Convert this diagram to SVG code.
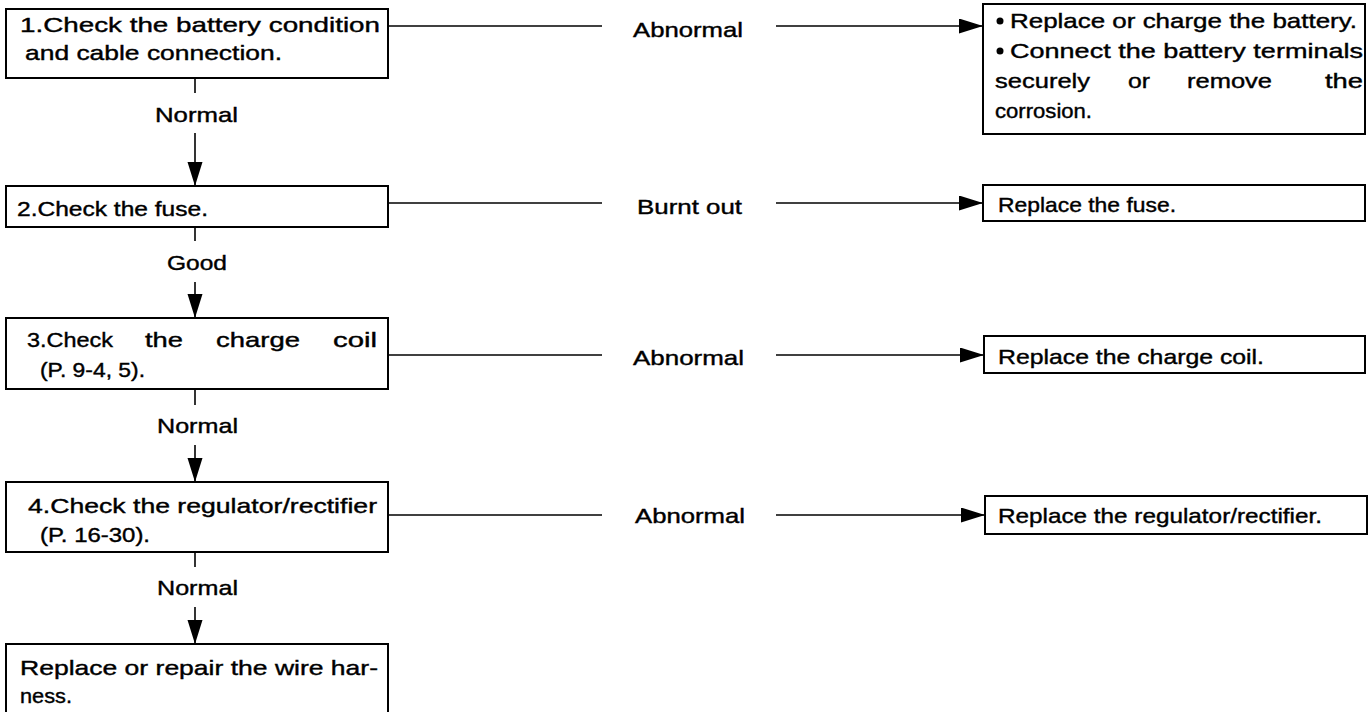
<svg xmlns="http://www.w3.org/2000/svg" width="1372" height="712" viewBox="0 0 1372 712">
<style>
.box{fill:#fff;stroke:#000;stroke-width:2}
.ln{fill:none;stroke:#000;stroke-width:1.6}
text{font-family:"Liberation Sans",Arial,sans-serif;font-size:21px;fill:#000;stroke:#000;stroke-width:0.4}
</style>
<defs>
<marker id="ah" markerWidth="26" markerHeight="16" refX="24" refY="7.5" orient="auto" markerUnits="userSpaceOnUse">
<path d="M0,0 L24,7.5 L0,15 z" fill="#000"/>
</marker>
</defs>
<rect width="1372" height="712" fill="#fff"/>
<g id="connectors">
<line class="ln" x1="195" y1="78" x2="195" y2="93"/>
<line class="ln" x1="195" y1="133" x2="195" y2="186" marker-end="url(#ah)"/>
<line class="ln" x1="195" y1="227" x2="195" y2="241"/>
<line class="ln" x1="195" y1="282" x2="195" y2="318" marker-end="url(#ah)"/>
<line class="ln" x1="195" y1="389" x2="195" y2="405"/>
<line class="ln" x1="195" y1="445" x2="195" y2="482" marker-end="url(#ah)"/>
<line class="ln" x1="195" y1="552" x2="195" y2="567"/>
<line class="ln" x1="195" y1="607" x2="195" y2="644" marker-end="url(#ah)"/>
<line class="ln" x1="388" y1="26" x2="602" y2="26"/>
<line class="ln" x1="776" y1="26" x2="983" y2="26" marker-end="url(#ah)"/>
<line class="ln" x1="388" y1="203" x2="602" y2="203"/>
<line class="ln" x1="776" y1="203" x2="983" y2="203" marker-end="url(#ah)"/>
<line class="ln" x1="388" y1="355" x2="602" y2="355"/>
<line class="ln" x1="776" y1="355" x2="984" y2="355" marker-end="url(#ah)"/>
<line class="ln" x1="388" y1="515" x2="602" y2="515"/>
<line class="ln" x1="776" y1="515" x2="985" y2="515" marker-end="url(#ah)"/>
<text x="633" y="37" textLength="110" lengthAdjust="spacingAndGlyphs">Abnormal</text>
<text x="637" y="214" textLength="105" lengthAdjust="spacingAndGlyphs">Burnt out</text>
<text x="633" y="365" textLength="111" lengthAdjust="spacingAndGlyphs">Abnormal</text>
<text x="635" y="523" textLength="110" lengthAdjust="spacingAndGlyphs">Abnormal</text>
<text x="155" y="122" textLength="83" lengthAdjust="spacingAndGlyphs">Normal</text>
<text x="167" y="270" textLength="60" lengthAdjust="spacingAndGlyphs">Good</text>
<text x="157" y="433" textLength="81" lengthAdjust="spacingAndGlyphs">Normal</text>
<text x="157" y="595" textLength="81" lengthAdjust="spacingAndGlyphs">Normal</text>
</g>
<g id="step1">
<rect class="box" x="6" y="9" width="382" height="69"/>
<text x="20" y="32" textLength="360" lengthAdjust="spacingAndGlyphs">1.Check the battery condition</text>
<text x="25" y="60" textLength="257" lengthAdjust="spacingAndGlyphs">and cable connection.</text>
</g>
<g id="step2">
<rect class="box" x="6" y="186" width="382" height="41"/>
<text x="17" y="216" textLength="191" lengthAdjust="spacingAndGlyphs">2.Check the fuse.</text>
</g>
<g id="step3">
<rect class="box" x="6" y="318" width="382" height="71"/>
<text y="347"><tspan x="27" textLength="86" lengthAdjust="spacingAndGlyphs">3.Check</tspan><tspan x="145" textLength="38" lengthAdjust="spacingAndGlyphs">the</tspan><tspan x="216" textLength="84" lengthAdjust="spacingAndGlyphs">charge</tspan><tspan x="333" textLength="44" lengthAdjust="spacingAndGlyphs">coil</tspan></text>
<text x="40" y="377" textLength="105" lengthAdjust="spacingAndGlyphs">(P. 9-4, 5).</text>
</g>
<g id="step4">
<rect class="box" x="6" y="482" width="382" height="70"/>
<text x="28" y="513" textLength="349" lengthAdjust="spacingAndGlyphs">4.Check the regulator/rectifier</text>
<text x="40" y="542" textLength="110" lengthAdjust="spacingAndGlyphs">(P. 16-30).</text>
</g>
<g id="step5">
<rect class="box" x="6" y="644" width="382" height="80"/>
<text x="20" y="675" textLength="358" lengthAdjust="spacingAndGlyphs">Replace or repair the wire har-</text>
<text x="20" y="703" textLength="52" lengthAdjust="spacingAndGlyphs">ness.</text>
</g>
<g id="fix1">
<rect class="box" x="983" y="4" width="382" height="130"/>
<circle cx="1000" cy="21" r="3.5" fill="#000"/>
<circle cx="1000" cy="51" r="3.5" fill="#000"/>
<text x="1010" y="28" textLength="347" lengthAdjust="spacingAndGlyphs">Replace or charge the battery.</text>
<text x="1010" y="58" textLength="353" lengthAdjust="spacingAndGlyphs">Connect the battery terminals</text>
<text y="88"><tspan x="995" textLength="95" lengthAdjust="spacingAndGlyphs">securely</tspan><tspan x="1128" textLength="22" lengthAdjust="spacingAndGlyphs">or</tspan><tspan x="1187" textLength="85" lengthAdjust="spacingAndGlyphs">remove</tspan><tspan x="1325" textLength="38" lengthAdjust="spacingAndGlyphs">the</tspan></text>
<text x="995" y="118" textLength="97" lengthAdjust="spacingAndGlyphs">corrosion.</text>
</g>
<g id="fix2">
<rect class="box" x="983" y="185" width="382" height="36"/>
<text x="998" y="212" textLength="178" lengthAdjust="spacingAndGlyphs">Replace the fuse.</text>
</g>
<g id="fix3">
<rect class="box" x="984" y="336" width="381" height="37"/>
<text x="998" y="364" textLength="266" lengthAdjust="spacingAndGlyphs">Replace the charge coil.</text>
</g>
<g id="fix4">
<rect class="box" x="985" y="496" width="382" height="38"/>
<text x="998" y="523" textLength="324" lengthAdjust="spacingAndGlyphs">Replace the regulator/rectifier.</text>
</g>
</svg>
